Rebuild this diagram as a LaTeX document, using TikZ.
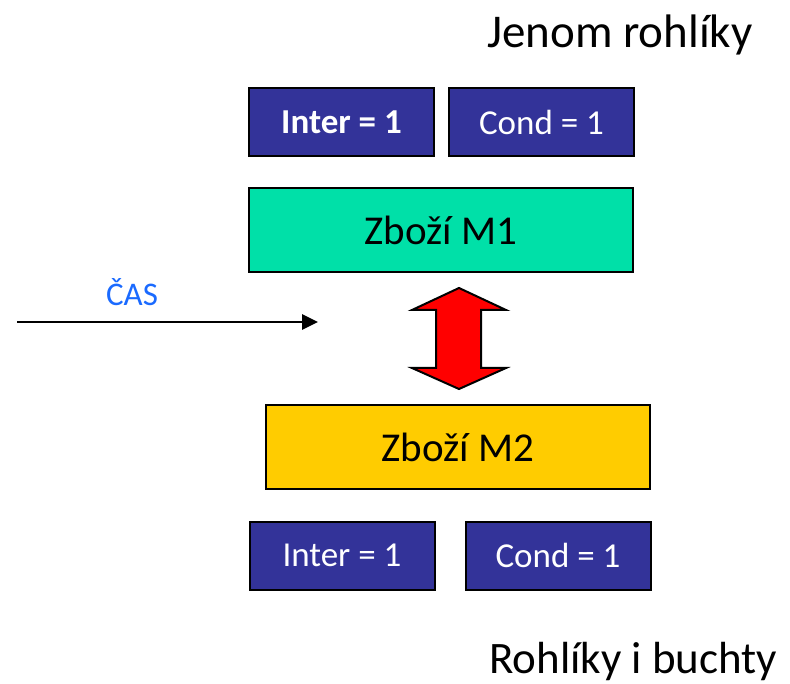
\documentclass[tikz,border=0pt]{standalone}
\usepackage{fontspec}
\setmainfont{Carlito}
\usetikzlibrary{arrows.meta}
\definecolor{boxblue}{HTML}{333399}
\definecolor{mgreen}{HTML}{00E0A8}
\definecolor{myellow}{HTML}{FFCC00}
\definecolor{casblue}{HTML}{1A6AFF}
\tikzset{
  flag/.style={draw=black, line width=2pt, fill=boxblue, text=white, minimum width=185pt, minimum height=68pt, inner sep=0pt, font=\fontsize{35}{40}\selectfont},
  goods/.style={draw=black, line width=2pt, minimum width=384pt, minimum height=84pt, inner sep=0pt, font=\fontsize{41}{46}\selectfont},
  title/.style={anchor=west, inner sep=0pt, font=\fontsize{45}{52}\selectfont},
  timearrow/.style={line width=2.8pt, -{Triangle[length=16pt,width=15pt]}},
  blockarrow/.style={draw=black, line width=2pt, fill=red, line join=miter}
}
\begin{document}
\begin{tikzpicture}[x=1pt,y=-1pt]
\useasboundingbox (0,0) rectangle (790,684);
\node[title, font=\fontsize{47}{52}\selectfont] (t1) at (487,35) {Jenom rohlíky};
\node[title] (t2) at (489,662) {Rohlíky i buchty};
\node[flag] (i1) at (341.5,122) {\textbf{Inter = 1}};
\node[flag] (c1) at (541.5,122) {Cond = 1};
\node[goods, fill=mgreen] (m1) at (441,230) {Zboží M1};
\node[goods, fill=myellow] (m2) at (458,447) {Zboží M2};
\node[flag] (i2) at (342,555.5) {Inter = 1};
\node[flag] (c2) at (558,555.5) {Cond = 1};
\node[text=casblue, font=\fontsize{33}{38}\selectfont, inner sep=0pt] (cas) at (132,292) {ČAS};
\coordinate (cs) at (17,322);
\coordinate (ce) at (318,322);
\draw[timearrow] (cs) -- (ce);
\draw[blockarrow] (459,288) -- (506,310) -- (481,310) -- (481,368) -- (506,368) -- (459,389)
  -- (412,368) -- (436,368) -- (436,310) -- (412,310) -- cycle;
\end{tikzpicture}
\end{document}
